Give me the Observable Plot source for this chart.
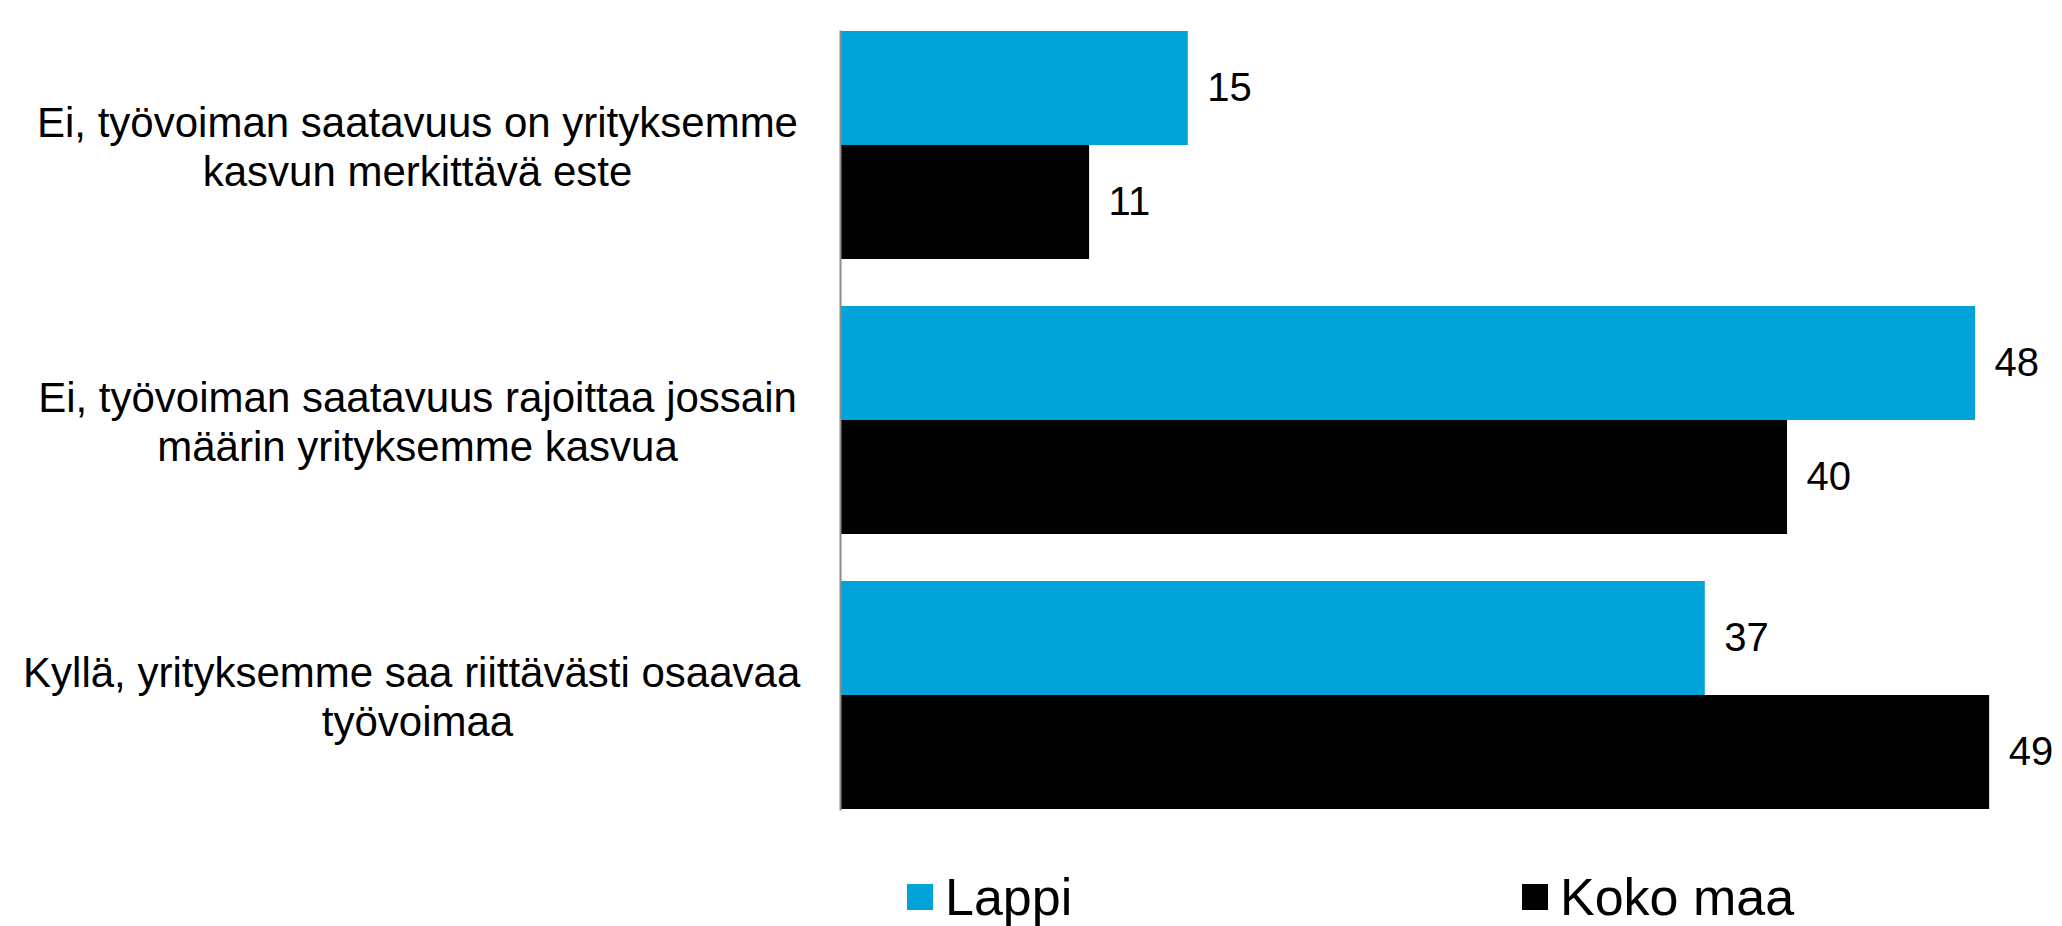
<!DOCTYPE html>
<html>
<head>
<meta charset="utf-8">
<script src="https://cdn.jsdelivr.net/npm/d3@7"></script>
<script src="https://cdn.jsdelivr.net/npm/@observablehq/plot@0.6"></script>
<style>
  html, body { margin: 0; padding: 0; background: #fff; }
  #wrap { width: 2062px; height: 926px; position: relative; overflow: hidden; font-family: "Liberation Sans", Arial, sans-serif; }
  #legend { position: relative; width: 2062px; height: 76px; }
  .item { position: absolute; top: 17px; height: 60px; display: flex; align-items: center; font-size: 52px; line-height: 60px; color: #000; }
  .sw { width: 26px; height: 26px; margin-right: 12px; }
</style>
</head>
<body>
<div id="wrap"><div id="chart"></div><div id="legend"></div></div>
<script>
const categories = [
  "Ei, työvoiman saatavuus on yrityksemme kasvun merkittävä este",
  "Ei, työvoiman saatavuus rajoittaa jossain määrin yrityksemme kasvua",
  "Kyllä, yrityksemme saa riittävästi osaavaa työvoimaa"
];
const categoryLines = [
  ["Ei, työvoiman saatavuus on yrityksemme", "kasvun merkittävä este"],
  ["Ei, työvoiman saatavuus rajoittaa jossain", "määrin yrityksemme kasvua"],
  ["Kyllä, yrityksemme saa riittävästi osaavaa\u00a0", "työvoimaa"]
];
const series = ["Lappi", "Koko maa"];
const lappiValues = [14.8, 48.3, 36.8];
const kokoMaaValues = [10.6, 40.3, 48.9];
const lappiLabels = ["15", "48", "37"];
const kokoMaaLabels = ["11", "40", "49"];
const colors = ["#02A3D9", "#000000"];

const data = categories.flatMap((c, i) => [
  {category: c, series: series[0], value: lappiValues[i], label: lappiLabels[i]},
  {category: c, series: series[1], value: kokoMaaValues[i], label: kokoMaaLabels[i]}
]);

const chart = Plot.plot({
  width: 2062,
  height: 850,
  marginLeft: 840,
  marginRight: 47,
  marginTop: 7,
  marginBottom: 16,
  style: {fontFamily: "'Liberation Sans', Arial, sans-serif", background: "white", color: "black"},
  x: {domain: [0, 50], axis: null},
  y: {domain: series, axis: null, padding: 0},
  fy: {domain: categories, axis: null, paddingInner: 0.17, paddingOuter: 0.085},
  color: {domain: series, range: colors},
  marks: [
    Plot.barX(data, {x: "value", y: "series", fy: "category", fill: "series"}),
    Plot.text(data, {x: "value", y: "series", fy: "category", text: "label", textAnchor: "start", dx: 19, fontSize: 40, fill: "black"}),
    Plot.text(categories, {fy: d => d, frameAnchor: "left", dx: -423, textAnchor: "middle",
      text: d => categoryLines[categories.indexOf(d)].join("\n"), fontSize: 42, lineHeight: 1.19, fill: "black"}),
    Plot.frame({anchor: "left", facet: "super", stroke: "#8c8c8c", strokeWidth: 2})
  ]
});
document.getElementById("chart").appendChild(chart);

const legend = document.getElementById("legend");
const legendX = [907, 1522];
series.forEach((s, i) => {
  const item = document.createElement("div");
  item.className = "item";
  item.style.left = legendX[i] + "px";
  const sw = document.createElement("div");
  sw.className = "sw";
  sw.style.background = colors[i];
  const t = document.createElement("span");
  t.textContent = s;
  item.appendChild(sw);
  item.appendChild(t);
  legend.appendChild(item);
});
</script>
</body>
</html>
